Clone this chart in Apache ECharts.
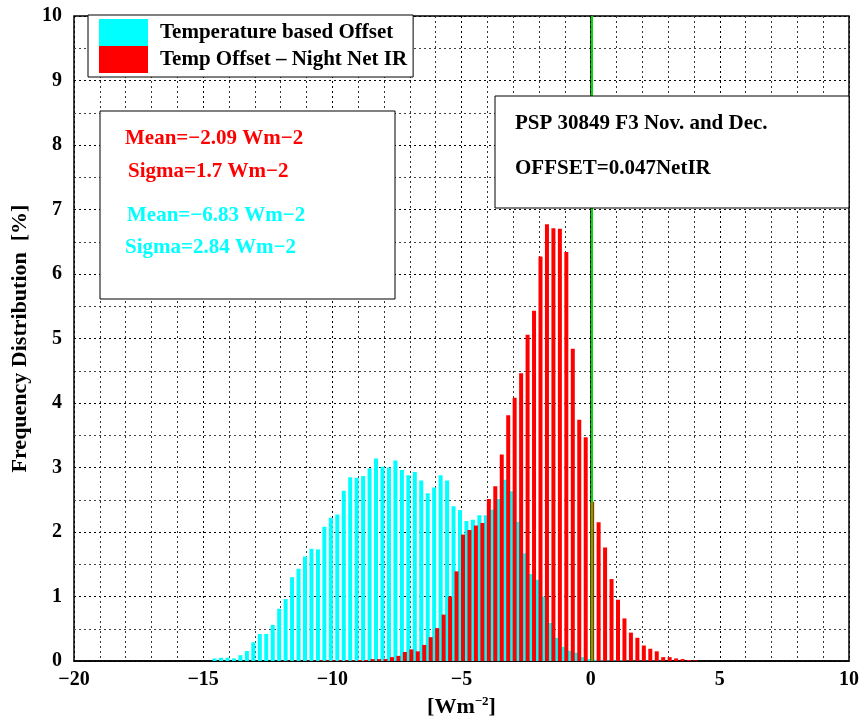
<!DOCTYPE html>
<html>
<head>
<meta charset="utf-8">
<title>PSP 30849 offset histogram</title>
<script src="https://cdn.jsdelivr.net/npm/echarts@6/dist/echarts.min.js"></script>
<style>
    html, body { margin: 0; padding: 0; background: #fff; }
    #echarts { width: 865px; height: 723px; }
</style>
</head>
<body>
<div id="echarts"></div>
<script>
// ======================
// DATA
// ======================

// bin centres, 0.25 Wm-2 wide
const bins = [
    -14.5, -14.25, -14, -13.75, -13.5, -13.25, -13, -12.75, -12.5, -12.25,
    -12, -11.75, -11.5, -11.25, -11, -10.75, -10.5, -10.25, -10, -9.75,
    -9.5, -9.25, -9, -8.75, -8.5, -8.25, -8, -7.75, -7.5, -7.25,
    -7, -6.75, -6.5, -6.25, -6, -5.75, -5.5, -5.25, -5, -4.75,
    -4.5, -4.25, -4, -3.75, -3.5, -3.25, -3, -2.75, -2.5, -2.25,
    -2, -1.75, -1.5, -1.25, -1, -0.75, -0.5, -0.25, 0, 0.25,
    0.5, 0.75, 1, 1.25, 1.5, 1.75, 2, 2.25, 2.5, 2.75,
    3, 3.25, 3.5, 3.75, 4
];

// Temperature based Offset [%]
const tempOffset = [
    0.04, 0.05, 0.05, 0.04, 0.09, 0.155, 0.29, 0.42, 0.42, 0.56,
    0.81, 0.96, 1.30, 1.43, 1.62, 1.74, 1.73, 2.08, 2.22, 2.27,
    2.64, 2.85, 2.84, 2.87, 2.99, 3.14, 3.01, 3.00, 3.11, 2.96,
    2.88, 2.93, 2.80, 2.60, 2.69, 2.88, 2.80, 2.40, 2.34, 2.17,
    2.19, 2.26, 2.26, 2.35, 2.51, 2.81, 2.63, 2.16, 1.67, 1.35,
    1.26, 1.00, 0.59, 0.36, 0.22, 0.16, 0.13, 0.06, 0.03, 0.02,
    0.01, 0.01, 0.01, 0.01, 0.005, 0.005, 0.005, 0.005, 0.005, 0.005,
    0, 0, 0, 0, 0
];

// Temp Offset - Night Net IR [%]
const nightNetIr = [
    0, 0, 0, 0, 0, 0, 0, 0, 0, 0,
    0.005, 0.005, 0.005, 0.005, 0.005, 0.005, 0.01, 0.01, 0.01, 0.01,
    0.01, 0.01, 0.015, 0.015, 0.03, 0.03, 0.03, 0.06, 0.08, 0.14,
    0.18, 0.15, 0.25, 0.37, 0.51, 0.72, 1.00, 1.39, 1.96, 2.03,
    2.10, 2.14, 2.51, 2.71, 3.20, 3.81, 4.08, 4.46, 5.06, 5.43,
    6.27, 6.77, 6.71, 6.70, 6.34, 4.84, 3.74, 3.47, 2.47, 2.15,
    1.76, 1.27, 0.95, 0.66, 0.44, 0.36, 0.24, 0.19, 0.15, 0.06,
    0.06, 0.04, 0.03, 0.015, 0.01
];

const seriesNames = ['Temperature based Offset', 'Temp Offset \u2013 Night Net IR'];
const statsRed = ['Mean=\u22122.09 Wm\u22122', 'Sigma=1.7 Wm\u22122'];
const statsCyan = ['Mean=\u22126.83 Wm\u22122', 'Sigma=2.84 Wm\u22122'];
const infoLines = ['PSP 30849 F3 Nov. and Dec.', 'OFFSET=0.047NetIR'];

// ======================
// INITIALIZE ECHARTS
// ======================

const chartContainer = document.getElementById('echarts');
const chart = echarts.init(chartContainer, null, { renderer: 'canvas' });

const FONT = '"Liberation Serif", "Times New Roman", serif';
const minus = v => String(v).replace('-', '\u2212');

const dotted = (color) => ({ color: color, width: 1, type: [2, 3] });

const textEl = (x, y, text, color) => ({
    type: 'text',
    x: x,
    y: y,
    z: 101,
    style: {
        text: text,
        fill: color,
        font: 'bold 21px ' + FONT,
        verticalAlign: 'middle'
    }
});

const option = {
    animation: false,
    backgroundColor: '#fff',
    grid: {
        left: 74,
        right: 16,
        top: 16,
        bottom: 62,
        containLabel: false,
        outerBoundsMode: 'none',
        show: true,
        borderColor: '#000',
        borderWidth: 1.5,
        backgroundColor: 'transparent'
    },
    legend: {
        orient: 'vertical',
        left: 88,
        top: 15,
        icon: 'rect',
        itemWidth: 49,
        itemHeight: 27,
        itemGap: 0,
        padding: [4, 6, 4, 11],
        backgroundColor: '#fff',
        borderColor: '#000',
        borderWidth: 1,
        z: 50,
        selectedMode: false,
        textStyle: {
            fontFamily: FONT,
            fontWeight: 'bold',
            fontSize: 21,
            color: '#000',
            padding: [0, 0, 0, 7]
        },
        data: seriesNames
    },
    xAxis: {
        type: 'value',
        min: -20,
        max: 10,
        interval: 5,
        name: '[Wm{sup|\u22122}]',
        nameLocation: 'middle',
        nameGap: 34,
        nameTextStyle: {
            fontFamily: FONT,
            fontWeight: 'bold',
            fontSize: 22,
            color: '#000',
            rich: {
                sup: {
                    fontFamily: FONT,
                    fontWeight: 'bold',
                    fontSize: 13,
                    verticalAlign: 'bottom',
                    padding: [0, 0, 11, 0]
                }
            }
        },
        axisLine: { show: true, onZero: false, lineStyle: { color: '#000', width: 1.5 } },
        axisTick: { show: false },
        axisLabel: {
            margin: 9,
            color: '#000',
            fontFamily: FONT,
            fontWeight: 'bold',
            fontSize: 20,
            formatter: minus
        },
        splitLine: { show: true, lineStyle: dotted('#000') },
        minorTick: { show: false, splitNumber: 5 },
        minorSplitLine: { show: true, lineStyle: dotted('#333') }
    },
    yAxis: {
        type: 'value',
        min: 0,
        max: 10,
        interval: 1,
        name: 'Frequency Distribution  [%]',
        nameLocation: 'middle',
        nameGap: 38,
        nameTextStyle: {
            fontFamily: FONT,
            fontWeight: 'bold',
            fontSize: 22,
            color: '#000'
        },
        axisLine: { show: true, lineStyle: { color: '#000', width: 1.5 } },
        axisTick: { show: false },
        axisLabel: {
            margin: 12,
            color: '#000',
            fontFamily: FONT,
            fontWeight: 'bold',
            fontSize: 20
        },
        splitLine: { show: true, lineStyle: dotted('#000') },
        minorTick: { show: false, splitNumber: 2 },
        minorSplitLine: { show: true, lineStyle: dotted('#444') }
    },
    series: [
        {
            name: seriesNames[0],
            type: 'bar',
            barWidth: 4,
            barGap: '-25%',
            itemStyle: { color: '#00ffff' },
            data: bins.map((b, i) => [b, tempOffset[i]])
        },
        {
            name: seriesNames[1],
            type: 'bar',
            barWidth: 4,
            barGap: '-25%',
            itemStyle: { color: '#ff0000' },
            data: bins.map((b, i) => [b, nightNetIr[i]]),
            markLine: {
                silent: true,
                symbol: 'none',
                label: { show: false },
                lineStyle: { color: '#00dd00', width: 2, type: 'solid' },
                data: [{ xAxis: 0 }]
            }
        }
    ],
    graphic: [
        // statistics box
        {
            type: 'rect',
            z: 100,
            shape: { x: 100, y: 111, width: 295, height: 188 },
            style: { fill: '#fff', stroke: '#000', lineWidth: 1 }
        },
        textEl(125, 139, statsRed[0], '#ff0000'),
        textEl(128, 172, statsRed[1], '#ff0000'),
        textEl(127, 216, statsCyan[0], '#00ffff'),
        textEl(125, 248, statsCyan[1], '#00ffff'),
        // instrument box
        {
            type: 'rect',
            z: 100,
            shape: { x: 495, y: 96, width: 354, height: 112 },
            style: { fill: '#fff', stroke: '#000', lineWidth: 1 }
        },
        textEl(515, 124, infoLines[0], '#000'),
        textEl(515, 169, infoLines[1], '#000')
    ]
};

try {
    chart.setOption(option);
} catch (error) {
    console.error('[OffsetHistogram] setOption error:', error);
}
</script>
</body>
</html>
